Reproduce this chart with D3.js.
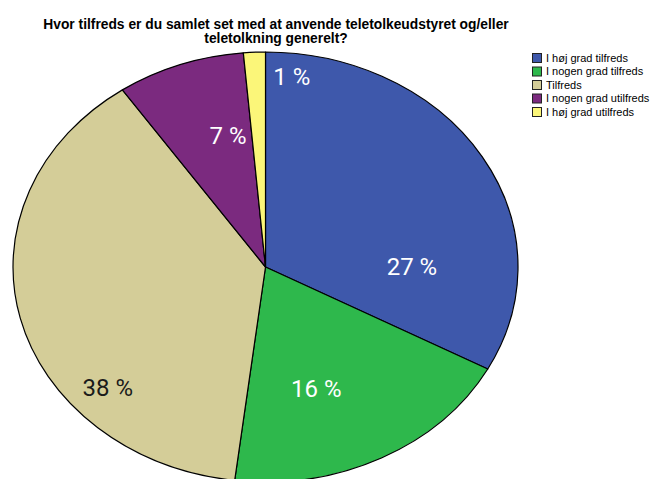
<!DOCTYPE html>
<html>
<head>
<meta charset="utf-8">
<script src="https://cdn.jsdelivr.net/npm/d3@7"></script>
<style>
  body { margin: 0; background: #fff; }
  svg { display: block; }
</style>
</head>
<body>
<div id="viz"></div>
<script>
const width = 662;
const height = 479;

// data
const categories = ['I høj grad tilfreds', 'I nogen grad tilfreds', 'Tilfreds', 'I nogen grad utilfreds', 'I høj grad utilfreds'];
const shares = [32.9, 19.1, 38.5, 8.2, 1.4];
const labels = ['27 %', '16 %', '38 %', '7 %', '1 %'];
const colors = ['#3e58ab', '#2eb84c', '#d4cd98', '#7b2a7f', '#fbf679'];
const labelColors = ['#ffffff', '#ffffff', '#1a1a1a', '#ffffff', '#ffffff'];
// label placement: angle (deg, clockwise from top), radius fraction
const labelPlace = [[90, 0.58], [160.4, 0.6], [228, 0.84], [346.4, 0.63], [6.7, 0.89]];

const titleLines = ['Hvor tilfreds er du samlet set med at anvende teletolkeudstyret og/eller', 'teletolkning generelt?'];

const cx = 265.5, cy = 267, rx = 252.5, ry = 215;

const svg = d3.select('#viz')
  .append('svg')
  .attr('width', width)
  .attr('height', height);

// title
svg.append('g')
  .selectAll('text')
  .data(titleLines)
  .join('text')
    .attr('x', 276)
    .attr('y', (d, i) => 29 + i * 13.5)
    .attr('text-anchor', 'middle')
    .attr('font-family', 'Liberation Sans, Arial, sans-serif')
    .attr('font-weight', 'bold')
    .attr('font-size', 13.8)
    .attr('fill', '#000')
    .text(d => d);

const pie = d3.pie().sort(null).value(d => d);
const arcs = pie(shares);
const arc = d3.arc().innerRadius(0).outerRadius(rx);

svg.append('g')
  .attr('transform', `translate(${cx},${cy}) scale(1,${ry / rx})`)
  .selectAll('path')
  .data(arcs)
  .join('path')
    .attr('d', arc)
    .attr('fill', (d, i) => colors[i])
    .attr('stroke', '#000')
    .attr('stroke-width', 1.2)
    .attr('stroke-linejoin', 'round')
    .attr('vector-effect', 'non-scaling-stroke');

// labels
const rScale = d3.scaleLinear().domain([0, 1]).range([0, 1]);
svg.append('g')
  .selectAll('text')
  .data(labels)
  .join('text')
    .attr('x', (d, i) => cx + rx * rScale(labelPlace[i][1]) * Math.sin(labelPlace[i][0] * Math.PI / 180))
    .attr('y', (d, i) => cy - ry * rScale(labelPlace[i][1]) * Math.cos(labelPlace[i][0] * Math.PI / 180))
    .attr('dy', '0.35em')
    .attr('text-anchor', 'middle')
    .attr('font-family', 'Roboto, sans-serif')
    .attr('font-size', 24)
    .attr('fill', (d, i) => labelColors[i])
    .text(d => d);

// legend
const legend = svg.append('g')
  .attr('transform', 'translate(532,53)');

const rows = legend.selectAll('g')
  .data(categories)
  .join('g')
    .attr('transform', (d, i) => `translate(0,${i * 13.5})`);

rows.append('rect')
  .attr('x', 0.5)
  .attr('y', 0.5)
  .attr('width', 9)
  .attr('height', 9)
  .attr('fill', (d, i) => colors[i])
  .attr('stroke', '#222')
  .attr('stroke-width', 1);

rows.append('text')
  .attr('x', 14)
  .attr('y', 8.5)
  .attr('font-family', 'Liberation Sans, Arial, sans-serif')
  .attr('font-size', 11)
  .attr('fill', '#000')
  .text(d => d);
</script>
</body>
</html>
